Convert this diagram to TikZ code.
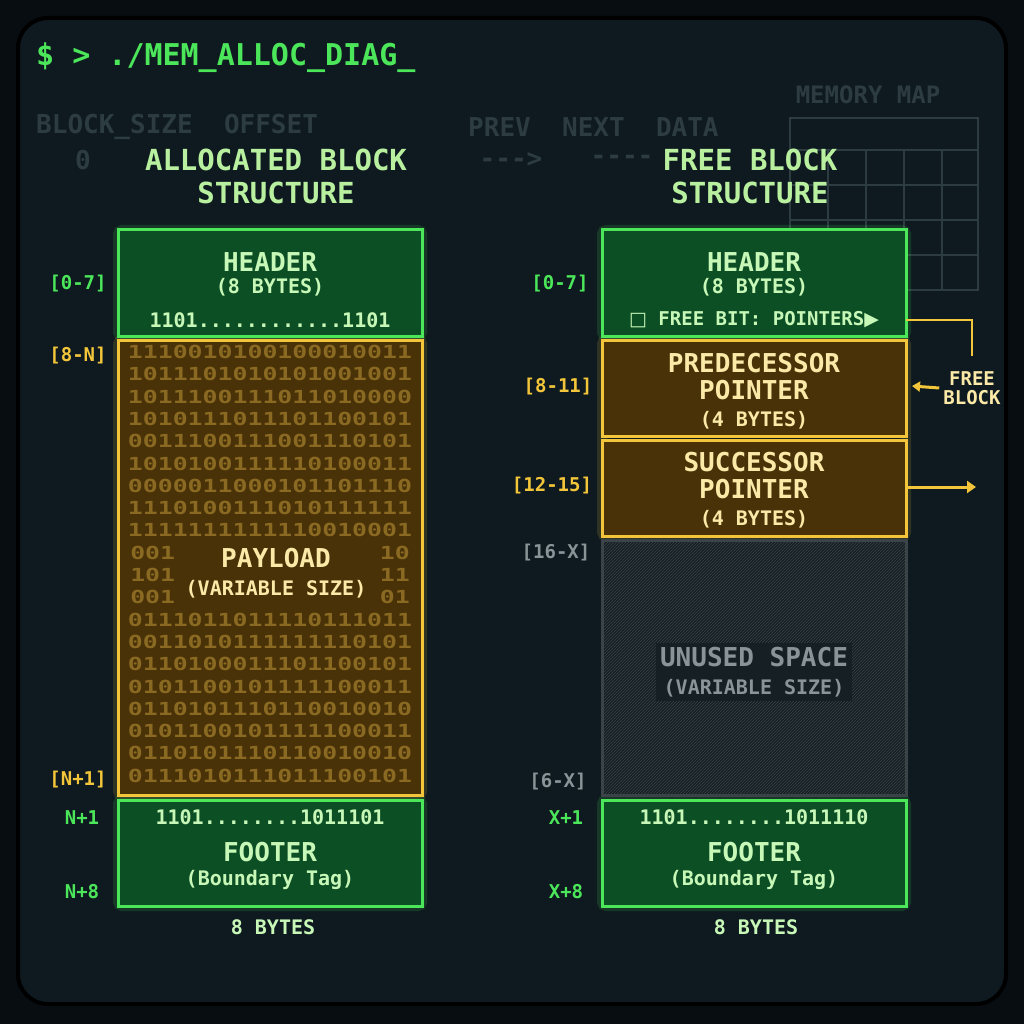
\documentclass[tikz,border=0pt]{standalone}
\usepackage{fontspec}
\setmonofont{DejaVu Sans Mono}
\usetikzlibrary{patterns,arrows.meta}
\definecolor{bg}{HTML}{070D10}
\definecolor{scr}{HTML}{0E1A1F}
\definecolor{grn}{HTML}{4CE65A}
\definecolor{grnfill}{HTML}{0D4F25}
\definecolor{ttl}{HTML}{B8F0A0}
\definecolor{ylw}{HTML}{F2C53A}
\definecolor{ylwfill}{HTML}{4A3208}
\definecolor{bin}{HTML}{8A6A22}
\definecolor{faint}{HTML}{2C3C40}
\definecolor{gry}{HTML}{3A4448}
\definecolor{unfill}{HTML}{161F24}
\definecolor{grytxt}{HTML}{8A9498}
\definecolor{lgrn}{HTML}{C8F8B8}
\definecolor{lylw}{HTML}{FBE9A8}
\tikzset{
  x=1pt,y=-1pt,
  txt/.style={font=\ttfamily\bfseries\fontsize{#1}{#1}\selectfont,inner sep=0pt},
  gbox/.style={draw=grn,line width=3pt,fill=grnfill},
  ybox/.style={draw=ylw,line width=3pt,fill=ylwfill},
  glowg/.style={draw=grn,line width=10pt,opacity=0.15,rounded corners=4pt},
  glowy/.style={draw=ylw,line width=10pt,opacity=0.15,rounded corners=4pt},
  bits/.style={txt=18,text=bin,xscale=1.38},
}
\begin{document}
\begin{tikzpicture}
\useasboundingbox (0,0) rectangle (1024,1024);
\fill[bg] (0,0) rectangle (1024,1024);
\fill[scr,rounded corners=30pt] (18,18) rectangle (1006,1004);
\draw[black,line width=4pt,rounded corners=30pt] (18,18) rectangle (1006,1004);
% prompt
\node[txt=30,text=grn,anchor=west] (prompt) at (36,58) {\$ > ./MEM\_ALLOC\_DIAG\_};
% faint background texts
\node[txt=26,text=faint,anchor=west] (f1) at (36,127) {BLOCK\_SIZE\ \ OFFSET};
\node[txt=26,text=faint,anchor=west] (f2) at (468,127) {PREV\ \ NEXT\ \ DATA};
\node[txt=26,text=faint] (f3) at (83,160) {0};
\node[txt=26,text=faint] (f4) at (511,160) {--->};
\node[txt=26,text=faint] (f5) at (622,160) {----};
\node[txt=24,text=faint] (f6) at (868,95) {MEMORY MAP};
\draw[faint,line width=2pt] (790,118) rectangle (978,290);
\foreach \i in {828,866,904,942} \draw[faint,line width=1.5pt] (\i,150)--(\i,290);
\foreach \j in {150,185,220,255} \draw[faint,line width=1.5pt] (790,\j)--(978,\j);
% titles
\node[txt=29,text=ttl,align=center] (t1) at (276,176) {ALLOCATED BLOCK\\[4pt]STRUCTURE};
\node[txt=29,text=ttl,align=center] (t2) at (750,176) {FREE BLOCK\\[4pt]STRUCTURE};
% ===== left column
\draw[glowg] (118,230) rectangle (422,336);
\draw[glowy] (118,340) rectangle (422,795);
\draw[glowg] (118,800) rectangle (422,906);
\path[gbox] (118,230) rectangle (422,336);
\path[ybox] (118,340) rectangle (422,795);
\path[gbox] (118,800) rectangle (422,906);
\node[txt=26,text=lgrn] (lh) at (270,262) {HEADER};
\node[txt=20,text=lgrn] (lh2) at (270,287) {(8 BYTES)};
\node[txt=20,text=lgrn] (lh3) at (270,320) {1101............1101};
\foreach \r/\s in {
 0/1110010100100010011,1/1011101010101001001,2/1011100111011010000,3/1010111011101100101,
 4/0011100111001110101,5/1010100111110100011,6/0000011000101101110,7/1110100111010111111,
 8/1111111111110010001,
 12/0111011011110111011,13/0011010111111110101,14/0110100011101100101,
 15/0101100101111100011,16/0110101110110010010,17/0101100101111100011,18/0110101110110010010,19/0111010111011100101}
  {\node[bits] (b\r) at (270,352+\r*22.3) {\s};}
\node[bits,anchor=west] (b9a) at (130,553) {001};
\node[bits,anchor=east] (b9b) at (410,553) {10};
\node[bits,anchor=west] (b10a) at (130,575) {101};
\node[bits,anchor=east] (b10b) at (410,575) {11};
\node[bits,anchor=west] (b11a) at (130,597) {001};
\node[bits,anchor=east] (b11b) at (410,597) {01};
\node[txt=26,text=lylw,align=center] (pl) at (276,573) {PAYLOAD\\[2pt]\fontsize{20}{20}\selectfont(VARIABLE SIZE)};
\node[txt=20,text=lgrn] (lf1) at (270,817) {1101........1011101};
\node[txt=26,text=lgrn] (lf2) at (270,852) {FOOTER};
\node[txt=20,text=lgrn] (lf3) at (270,880) {(Boundary Tag)};
\node[txt=20,text=lgrn] (lb) at (273,927) {8 BYTES};
\node[txt=19,text=grn] (a1) at (78,284) {[0-7]};
\node[txt=19,text=ylw] (a2) at (78,356) {[8-N]};
\node[txt=19,text=ylw] (a3) at (78,780) {[N+1]};
\node[txt=19,text=grn] (a4) at (82,818) {N+1};
\node[txt=19,text=grn] (a5) at (82,892) {N+8};
% ===== right column
\draw[glowg] (602,230) rectangle (906,336);
\draw[glowy] (602,340) rectangle (906,536);
\draw[glowg] (602,800) rectangle (906,906);
\path[gbox] (602,230) rectangle (906,336);
\path[ybox] (602,340) rectangle (906,436);
\path[ybox] (602,440) rectangle (906,536);
\fill[unfill] (602,540) rectangle (906,795);
\path[pattern=north east lines,pattern color=gry] (602,540) rectangle (906,795);
\draw[gry,line width=3pt] (602,540) rectangle (906,795);
\path[gbox] (602,800) rectangle (906,906);
\node[txt=26,text=lgrn] (rh) at (754,262) {HEADER};
\node[txt=20,text=lgrn] (rh2) at (754,287) {(8 BYTES)};
\node[txt=19,text=lgrn] (rh3) at (754,320) {{\fontspec{DejaVu Sans}□} FREE BIT: POINTERS{\fontspec{DejaVu Sans}▶}};
\node[txt=26,text=lylw,align=center] (pr) at (754,391) {PREDECESSOR\\[1pt]POINTER\\[1pt]\fontsize{20}{20}\selectfont(4 BYTES)};
\node[txt=26,text=lylw,align=center] (su) at (754,490) {SUCCESSOR\\[1pt]POINTER\\[1pt]\fontsize{20}{20}\selectfont(4 BYTES)};
\node[txt=26,text=grytxt,fill=unfill,inner sep=4pt,align=center] (un) at (754,672) {UNUSED SPACE\\[2pt]\fontsize{20}{20}\selectfont(VARIABLE SIZE)};
\node[txt=20,text=lgrn] (rf1) at (754,817) {1101........1011110};
\node[txt=26,text=lgrn] (rf2) at (754,852) {FOOTER};
\node[txt=20,text=lgrn] (rf3) at (754,880) {(Boundary Tag)};
\node[txt=20,text=lgrn] (rb) at (756,927) {8 BYTES};
\node[txt=19,text=grn] (c1) at (560,284) {[0-7]};
\node[txt=19,text=ylw] (c2) at (558,387) {[8-11]};
\node[txt=19,text=ylw] (c3) at (552,486) {[12-15]};
\node[txt=19,text=grytxt] (c4) at (556,553) {[16-X]};
\node[txt=19,text=grytxt] (c5) at (558,782) {[6-X]};
\node[txt=19,text=grn] (c6) at (566,818) {X+1};
\node[txt=19,text=grn] (c7) at (566,892) {X+8};
% connectors
\coordinate (hr) at (906,320);
\coordinate (cr) at (972,320);
\coordinate (ce) at (972,356);
\draw[ylw,line width=2.5pt] (hr) -- (cr) -- (ce);
\node[txt=19,text=lylw,align=center] (fb) at (972,388) {FREE\\BLOCK};
\coordinate (pa) at (912,386);
\draw[ylw,line width=3pt,-{Triangle[length=8pt,width=10pt]}] (fb.west) ++(-4,0) coordinate (fbs) -- (pa);
\coordinate (sa) at (976,487);
\draw[ylw,line width=3pt,-{Triangle[length=9pt,width=12pt]}] (906,487) -- (sa);
\end{tikzpicture}
\end{document}
